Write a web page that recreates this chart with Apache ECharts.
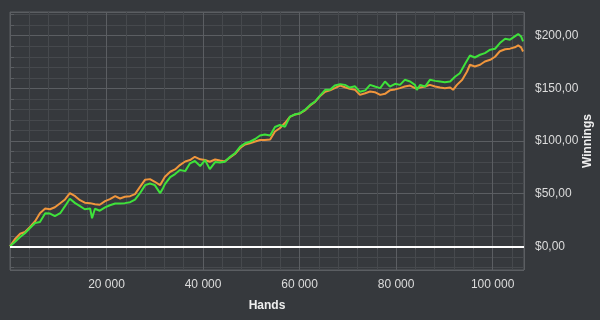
<!DOCTYPE html>
<html><head><meta charset="utf-8">
<script src="https://cdn.jsdelivr.net/npm/echarts@6/dist/echarts.min.js"></script>
<style>html,body{margin:0;padding:0;background:#36393d;}#c{width:600px;height:320px;}</style>
</head><body><div id="c"></div>
<script>
// Hands played (x) and cumulative winnings in $ (y)
const greenHands = [0,1000,2100,3100,4100,5200,6200,7300,8300,9300,10400,11400,12400,13500,14500,15500,16600,17000,17600,18600,19700,20700,21800,22800,23800,24900,25900,26900,28000,29000,30000,31100,31700,32100,33200,34200,35200,36300,37300,38300,39400,40400,41400,42500,43500,44500,45600,46600,47700,48700,49700,50800,51800,52800,53900,54900,55900,57000,58000,59100,60100,61100,62200,63200,64200,65300,66300,67300,68400,69400,70400,71500,72500,73600,74600,75600,76700,77700,78700,79800,80800,81800,82900,83900,84300,85000,86000,87000,88100,89100,90100,91200,92200,93200,94300,95300,96300,97400,98400,99500,100500,101500,102600,103600,104600,105300,105900,106300];
const greenWin = [0,4.1,8.9,12.4,17.1,22.2,23.1,31.4,31.1,28.6,31.4,38.1,45.2,41,38.1,35.2,35.9,26.7,35.7,33.8,37,39,40.7,40.7,41,41.9,44.3,50.2,58.1,59.7,58.1,50.5,55.2,59,65.7,68.6,72.4,71.4,78.8,81,76.2,81.9,73.3,80,79.5,80.3,85,88.3,94.6,97.8,99.3,101.9,105.2,106.2,105.2,113.3,115.2,113.6,123.1,125.4,126.4,129.5,134.3,137.4,142.9,148.6,148.6,152.7,154,153.3,150.8,151.9,146.7,148.1,153.3,151.7,150.2,156.5,151.7,154.3,153.3,158.1,156.5,153.3,148.6,153.3,151.7,158.1,157.1,156.5,155.9,156.5,161,164.3,173.3,181.2,179.3,181.9,183.5,186.7,187.6,193,197.1,196.2,199.3,201.6,199.3,194.6];
const orangeHands = [0,1000,2100,3100,4100,5200,6200,7300,8300,9300,10400,11400,12400,13500,14500,15500,16600,17600,18600,19700,20700,21800,22800,23800,24900,25900,26900,28000,29000,30000,31100,32100,33200,34200,35200,36300,37300,38300,39400,40400,41400,42500,43500,44500,45600,46600,47700,48700,49700,50800,51800,52800,53900,54900,55900,57000,58000,59100,60100,61100,62200,63200,64200,65300,66300,67300,68400,69400,70400,71500,72500,73600,74600,75600,76700,77700,78700,79800,80800,81800,82900,83900,85000,86000,87000,88100,89100,90100,91200,91800,92600,93700,94700,95300,96300,97400,98400,99500,100500,101500,102600,103600,104600,105300,105900,106300];
const orangeWin = [0,6.7,11.9,13.6,18.1,23.8,31.4,35.9,35.2,37.1,40.9,44.5,50.5,47.6,43.8,41.4,41,40,39.5,42.9,44.8,47.6,45.4,47,47.6,49.5,56.2,63.3,63.8,61.3,58.1,66,70.8,73,77.1,80.5,81.9,85,82.6,81.9,80.3,82.4,81.4,80.6,84.3,87.6,93.3,96.7,97.8,99.5,101,101,101.4,109,112.1,117.3,122.9,125.2,126.2,129,133.8,137.1,142.4,146.7,148.1,150.2,152.7,151,149.5,148.6,143.8,145.4,147,146.4,143.8,144.8,148.1,149,150.2,151.7,152.7,150.2,150.8,151.7,153.3,151.7,150.8,150.2,150.8,148.6,153.3,158.1,166,172.4,170.8,172.4,175.5,177.1,180,185.2,187.1,187.7,189,190.8,188.9,185];
const xMin = 0, xMax = 106500, xMajor = 20000, xMinor = 4000;
const yMin = -22.5, yMax = 222.5;

const zip = (a, b) => a.map((v, i) => [v, b[i]]);
const major = '#5b5e62', minor = '#46494d', txt = '#dcdcdc';
const font = 'Liberation Sans';

const chart = echarts.init(document.getElementById('c'), null, {renderer: 'canvas'});
chart.setOption({
  backgroundColor: '#36393d',
  animation: false,
  grid: {left: 10, right: 76, top: 12, bottom: 50, containLabel: false, outerBoundsMode: 'none',
    show: true, borderColor: major, borderWidth: 1, backgroundColor: 'transparent'},
  xAxis: [{
    type: 'value', min: xMin, max: xMax, interval: xMinor, position: 'bottom',
    axisLine: {show: false},
    axisTick: {show: true, length: 3, lineStyle: {color: major}},
    axisLabel: {interval: 0, margin: 9, color: txt, fontFamily: font, fontSize: 12,
      formatter: v => (v > 0 && v % xMajor === 0) ? String(v).replace(/\B(?=(\d{3})+(?!\d))/g, ' ') : ''},
    splitLine: {show: true, lineStyle: {color: minor, width: 1}},
    name: 'Hands', nameLocation: 'middle', nameGap: 30, nameMoveOverlap: false,
    nameTextStyle: {color: '#eeeeee', fontFamily: font, fontSize: 12, fontWeight: 'bold'}
  }, {
    type: 'value', min: xMin, max: xMax, interval: xMajor, position: 'top',
    axisLine: {show: false}, axisTick: {show: false}, axisLabel: {show: false},
    splitLine: {show: true, lineStyle: {color: major, width: 1}}
  }],
  yAxis: [{
    type: 'value', min: yMin, max: yMax, splitNumber: 24, position: 'right',
    axisLine: {show: false},
    axisTick: {show: true, length: 4, lineStyle: {color: major}},
    axisLabel: {margin: 11, color: txt, fontFamily: font, fontSize: 12,
      formatter: v => (Math.abs(v % 50) < 1e-9) ? '$' + v + ',00' : ''},
    splitLine: {show: true, lineStyle: {color: minor, width: 1}},
    name: 'Winnings', nameLocation: 'middle', nameRotate: 90, nameGap: 58, nameMoveOverlap: false,
    nameTextStyle: {color: '#eeeeee', fontFamily: font, fontSize: 12, fontWeight: 'bold'}
  }, {
    type: 'value', min: yMin, max: yMax, splitNumber: 5, position: 'left',
    axisLine: {show: false}, axisTick: {show: false}, axisLabel: {show: false},
    splitLine: {show: true, lineStyle: {color: major, width: 1}}
  }],
  series: [{
    name: 'orange', type: 'line', data: zip(orangeHands, orangeWin),
    showSymbol: false, symbol: 'none', lineStyle: {color: '#f0963c', width: 2}, itemStyle: {color: '#f0963c'}, z: 3
  }, {
    name: 'green', type: 'line', data: zip(greenHands, greenWin),
    showSymbol: false, symbol: 'none', lineStyle: {color: '#3ee23a', width: 2}, itemStyle: {color: '#3ee23a'}, z: 4,
    markLine: {silent: true, symbol: 'none', label: {show: false},
      lineStyle: {color: '#ffffff', width: 2, type: 'solid'}, data: [{yAxis: 0}]}
  }]
});
</script></body></html>
